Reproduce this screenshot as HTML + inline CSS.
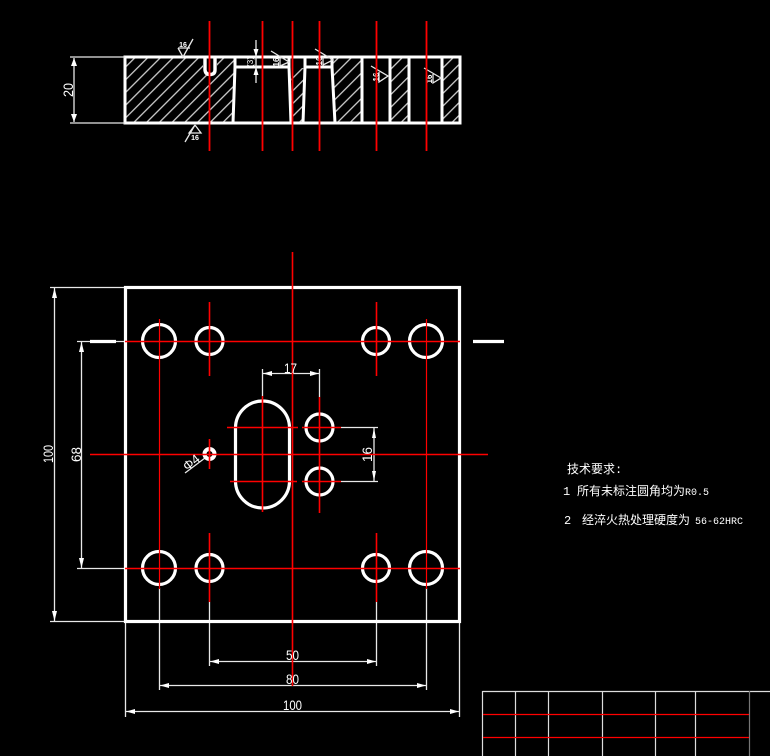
<!DOCTYPE html>
<html><head><meta charset="utf-8"><style>
html,body{margin:0;padding:0;background:#000;width:770px;height:756px;overflow:hidden}
svg{display:block}
text{fill:#fff;font-family:"Liberation Sans",sans-serif}
.cn{font-family:"Liberation Mono","WenQuanYi Zen Hei","Noto Sans CJK SC",monospace;font-size:12px}
</style></head><body>
<svg width="770" height="756" viewBox="0 0 770 756" xmlns="http://www.w3.org/2000/svg">
<defs>
<pattern id="h" width="9" height="9" patternUnits="userSpaceOnUse" patternTransform="rotate(45)">
<line x1="1.2" y1="0" x2="1.2" y2="9" stroke="#ddd" stroke-width="1.2"/>
</pattern>
</defs>
<!-- hatching -->
<g fill="url(#h)">
<path d="M126 58H203V72Q210 76 217 72V58H235L233 123H126Z"/>
<path d="M291 68H305L303 123H292Z"/>
<path d="M333 58H362V123H335Z"/>
<path d="M390 58H409V123H390Z"/>
<path d="M442 58H459V123H442Z"/>
</g>
<!-- top view outline -->
<g fill="none" stroke="#fff" stroke-width="3">
<rect x="125" y="57" width="335" height="66"/>
<path d="M205 57V70Q205.500 74.500 210 74.500Q215 74.500 215 70V57" stroke-width="3.400"/>
<path d="M235 57V67L233 123"/>
<path d="M235 67H289"/>
<path d="M289 57V67L291 123"/>
<path d="M305 57V67L303 123"/>
<path d="M305 67H332"/>
<path d="M332 57V67L335 123"/>
<path d="M362 57V123M390 57V123M409 57V123M442 57V123"/>
</g>
<!-- top view dims -->
<g fill="none" stroke="#e8e8e8" stroke-width="1.3">
<path d="M70 57H125M70 123H125M74 58V122"/>
<path d="M256 40V83"/>
<!-- roughness -->
<path d="M178 48H190M178 48L183 57L193 39"/>
<path d="M195 125L201 133H189L195 125L185 142"/>
<path d="M271 51L289 62L280 66V58"/>
<path d="M315 49L333 60L323 65V57"/>
<path d="M371 66L388 76L379 82V72"/>
<path d="M424 68L441 78L433 83V74"/>
</g>
<g fill="#fff">
<path d="M74 58L71 66H77Z"/><path d="M74 122L71 114H77Z"/>
<path d="M256 57L253.500 49H258.500Z"/><path d="M256 67L253.500 75H258.500Z"/>
</g>
<text x="0" y="0" font-size="14" textLength="14" lengthAdjust="spacingAndGlyphs" transform="translate(73 90) rotate(-90)" text-anchor="middle">20</text>
<text x="183" y="47" font-size="7" font-weight="bold" text-anchor="middle">16</text>
<text x="195" y="140" font-size="7" font-weight="bold" text-anchor="middle">16</text>
<text x="0" y="0" font-size="8" font-weight="bold" transform="translate(279 62) rotate(-90)" text-anchor="middle">16</text>
<text x="0" y="0" font-size="8" font-weight="bold" transform="translate(322 61) rotate(-90)" text-anchor="middle">16</text>
<text x="0" y="0" font-size="8" font-weight="bold" transform="translate(379 77) rotate(-90)" text-anchor="middle">16</text>
<text x="0" y="0" font-size="8" font-weight="bold" transform="translate(432 79) rotate(-90)" text-anchor="middle">16</text>
<text x="0" y="0" font-size="8" transform="translate(253 62) rotate(-90)" text-anchor="middle">(3)</text>
<!-- top view center lines -->
<g stroke="#f00" stroke-width="1.8">
<path d="M209.500 21V151M262.500 21V151M292.500 21V151M319.500 21V151M376.500 21V151M426.500 21V151"/>
</g>
<!-- plate dims -->
<g fill="none" stroke="#e8e8e8" stroke-width="1.3">
<path d="M50 287.500H125M50 621.500H125M54.500 288V621"/>
<path d="M77 341.500H125M77 568.500H125M81.500 342V568"/>
<path d="M125.500 621V717M459.500 621V717M125.500 711.500H459.500"/>
<path d="M159.500 588V690M426.500 588V690M159.500 685.500H426.500"/>
<path d="M209.500 602V666M376.500 602V666M209.500 661.500H376.500"/>
<path d="M262.500 369V396M319.500 369V397M262.500 373.500H319.500"/>
<path d="M341 427.500H378M341 481.500H378M374 428V481"/>
<path d="M185 473L205 458"/>
</g>
<g fill="#fff">
<path d="M54.500 288L52 298H57Z"/><path d="M54.500 621L52 611H57Z"/>
<path d="M81.500 342L79 352H84Z"/><path d="M81.500 568L79 558H84Z"/>
<path d="M126 711.500L135 709V714Z"/><path d="M459 711.500L450 709V714Z"/>
<path d="M160 685.500L169 683V688Z"/><path d="M426 685.500L417 683V688Z"/>
<path d="M210 661.500L219 659V664Z"/><path d="M376 661.500L367 659V664Z"/>
<path d="M263 373.500L272 371V376Z"/><path d="M319 373.500L310 371V376Z"/>
<path d="M374 428L372 438H376Z"/><path d="M374 481L372 471H376Z"/>
</g>
<!-- plate solid -->
<g fill="none" stroke="#fff" stroke-width="3.200">
<rect x="125.500" y="287.500" width="334" height="334"/>
<path d="M90 341.500H116M473 341.500H504"/>
<circle cx="159" cy="341" r="16.500"/><circle cx="426" cy="341" r="16.500"/>
<circle cx="159" cy="568" r="16.500"/><circle cx="426" cy="568" r="16.500"/>
<circle cx="209.500" cy="341" r="13.500"/><circle cx="376" cy="341" r="13.500"/>
<circle cx="209.500" cy="568" r="13.500"/><circle cx="376" cy="568" r="13.500"/>
<rect x="235.500" y="401" width="54" height="107" rx="27" ry="27"/>
<circle cx="319.500" cy="427.500" r="13.500"/><circle cx="319.500" cy="481.500" r="13.500"/>
<circle cx="209.500" cy="454" r="5" stroke-width="4"/>
</g>
<!-- plate center lines -->
<g stroke="#f00" stroke-width="1.6" fill="none">
<path d="M292.500 252V686"/>
<path d="M90 454.500H488"/>
<path d="M125 341.500H460M125 568.500H460"/>
<path d="M159.500 319V589M426.500 319V589" stroke-width="1.2"/>
<path d="M209.500 302V376M376.500 302V376M209.500 533V602M376.500 533V602"/>
<path d="M209.500 439V469"/>
<path d="M262.500 396V512"/>
<path d="M319.500 397V513"/>
<path d="M227 427.500H298M302 427.500H341M230 481.500H297M302 481.500H341"/>
</g>
<!-- plate labels -->
<text x="0" y="0" font-size="14" textLength="18" lengthAdjust="spacingAndGlyphs" transform="translate(53 454) rotate(-90)" text-anchor="middle">100</text>
<text x="0" y="0" font-size="14" textLength="15" lengthAdjust="spacingAndGlyphs" transform="translate(81 454.500) rotate(-90)" text-anchor="middle">68</text>
<text x="290.500" y="373" font-size="14" textLength="13" lengthAdjust="spacingAndGlyphs" text-anchor="middle">17</text>
<text x="0" y="0" font-size="14" textLength="15" lengthAdjust="spacingAndGlyphs" transform="translate(372 454.500) rotate(-90)" text-anchor="middle">16</text>
<text x="0" y="0" font-size="13" transform="translate(194 466) rotate(-38)" text-anchor="middle">Φ4</text>
<text x="292.500" y="660" font-size="14" textLength="13" lengthAdjust="spacingAndGlyphs" text-anchor="middle">50</text>
<text x="292.500" y="684" font-size="14" textLength="13" lengthAdjust="spacingAndGlyphs" text-anchor="middle">80</text>
<text x="292.500" y="710" font-size="14" textLength="19" lengthAdjust="spacingAndGlyphs" text-anchor="middle">100</text>
<!-- notes -->
<text class="cn" x="567" y="473">技术要求:</text>
<text class="cn" x="563" y="495">1</text>
<text class="cn" x="577" y="495">所有未标注圆角均为<tspan font-size="10">R0.5</tspan></text>
<text class="cn" x="564" y="524">2</text>
<text class="cn" x="582" y="524">经淬火热处理硬度为<tspan x="695" font-size="10">56-62HRC</tspan></text>
<!-- title block -->
<g stroke="#ddd" stroke-width="1.2" fill="none">
<path d="M482.500 691.500H770M482.500 691V756M515.500 691V756M548.500 691V756M602.500 691V756M655.500 691V756M695.500 691V756"/>
<path d="M749.500 691V756" stroke="#777"/>
</g>
<g stroke="#f00" stroke-width="1.300">
<path d="M483 714.500H749M483 737.500H749"/>
</g>
</svg>
</body></html>
